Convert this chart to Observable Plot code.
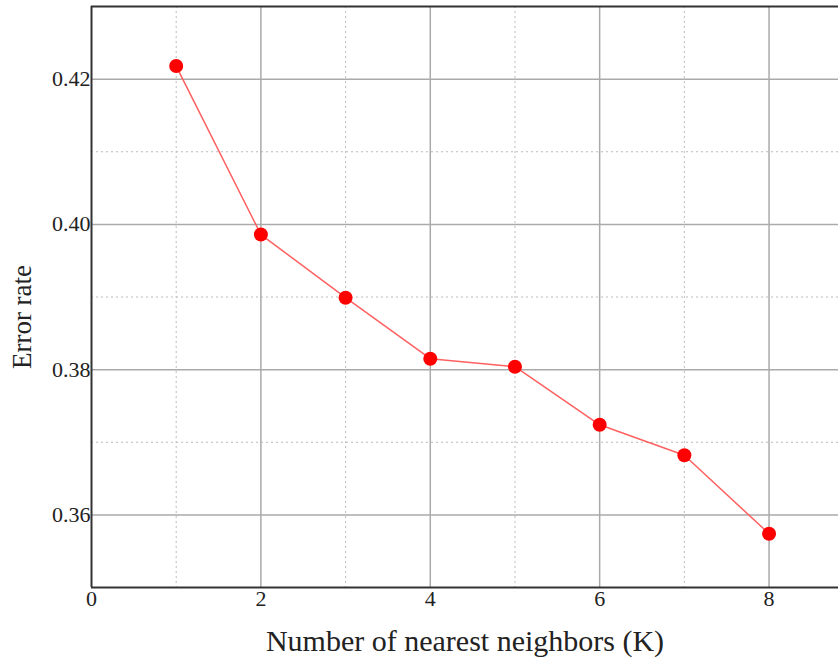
<!DOCTYPE html>
<html>
<head>
<meta charset="utf-8">
<script src="https://cdn.jsdelivr.net/npm/d3@7"></script>
<script src="https://cdn.jsdelivr.net/npm/@observablehq/plot@0.6"></script>
<style>
  html, body { margin: 0; padding: 0; background: #fff; }
</style>
</head>
<body>
<div id="chart"></div>
<script>
const kValues = [1, 2, 3, 4, 5, 6, 7, 8];
const errorRates = [0.4218, 0.3986, 0.3899, 0.3815, 0.3804, 0.3724, 0.3682, 0.3574];
const xMajorTicks = [0, 2, 4, 6, 8];
const xMinorTicks = [1, 3, 5, 7];
const yMajorTicks = [0.36, 0.38, 0.40, 0.42];
const yMinorTicks = [0.37, 0.39, 0.41];
const xLabel = "Number of nearest neighbors (K)";
const yLabel = "Error rate";

const data = kValues.map((k, i) => ({k, err: errorRates[i]}));

const font = "'Liberation Serif', 'Times New Roman', serif";

const chart = Plot.plot({
  width: 838,
  height: 659,
  marginLeft: 91,
  marginRight: 0,
  marginTop: 6,
  marginBottom: 72,
  style: {fontFamily: font, fontSize: "22px", color: "#222", background: "#fff"},
  x: {domain: [0, 8.82], ticks: xMajorTicks, tickSize: 0, tickPadding: 4, label: null, tickFormat: d3.format("d")},
  y: {domain: [0.35, 0.43], ticks: yMajorTicks, tickSize: 0, tickPadding: 1, label: null, tickFormat: d3.format(".2f")},
  marks: [
    Plot.ruleX(xMinorTicks, {stroke: "#bbb", strokeDasharray: "2,3", strokeWidth: 1}),
    Plot.ruleY(yMinorTicks, {stroke: "#bbb", strokeDasharray: "2,3", strokeWidth: 1}),
    Plot.ruleX(xMajorTicks.filter(d => d > 0), {stroke: "#aaa", strokeWidth: 1.5}),
    Plot.ruleY(yMajorTicks, {stroke: "#aaa", strokeWidth: 1.5}),
    Plot.ruleY([0.43], {stroke: "#333", strokeWidth: 2}),
    Plot.ruleY([0.35], {stroke: "#333", strokeWidth: 2}),
    Plot.ruleX([0], {stroke: "#333", strokeWidth: 2}),
    Plot.line(data, {x: "k", y: "err", stroke: "#ff6060", strokeWidth: 1.5}),
    Plot.dot(data, {x: "k", y: "err", r: 7, fill: "#ff0000", stroke: "none"}),
    Plot.axisX({ticks: xMajorTicks, tickSize: 0, tickPadding: 3, label: null, fontSize: 22, tickFormat: d3.format("d")}),
    Plot.axisY({ticks: yMajorTicks, tickSize: 0, tickPadding: 1, label: null, fontSize: 22, tickFormat: d3.format(".2f")}),
    Plot.text([xLabel], {frameAnchor: "bottom", dy: 54, fontSize: 30, fill: "#222", lineAnchor: "middle", textAnchor: "middle"}),
    Plot.text([yLabel], {frameAnchor: "left", dx: -69, dy: 20, rotate: -90, fontSize: 27, fill: "#222", lineAnchor: "middle", textAnchor: "middle"})
  ]
});
document.getElementById("chart").appendChild(chart);
</script>
</body>
</html>
